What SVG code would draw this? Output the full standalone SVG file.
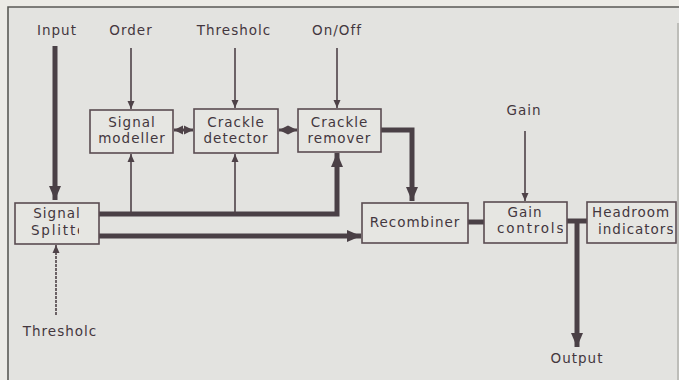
<svg xmlns="http://www.w3.org/2000/svg" width="679" height="380" viewBox="0 0 679 380">
<defs>
<style>
text{font-family:"DejaVu Sans","Liberation Sans",sans-serif;font-size:13.5px;letter-spacing:1px;fill:#43373e;text-anchor:middle}
text.s{text-anchor:start}
text.w{letter-spacing:1.8px}
.box{fill:#e6e6e2;stroke:#5a4c52;stroke-width:1.6}
.thin{fill:none;stroke:#4e4248;stroke-width:1.6}
.mid{fill:none;stroke:#4e4248;stroke-width:3}
.thick{fill:none;stroke:#4a4046;stroke-width:5}
</style>
<marker id="ah" markerUnits="userSpaceOnUse" markerWidth="10" markerHeight="10" refX="8" refY="4" orient="auto"><path d="M0,0.5 L8,4 L0,7.5 Z" fill="#4e4248"/></marker>
<marker id="ahm" markerUnits="userSpaceOnUse" markerWidth="12" markerHeight="12" refX="9" refY="5" orient="auto-start-reverse"><path d="M0,0.5 L9,5 L0,9.5 Z" fill="#4e4248"/></marker>
<marker id="ahb" markerUnits="userSpaceOnUse" markerWidth="16" markerHeight="14" refX="14" refY="6" orient="auto"><path d="M0,0 L14,6 L0,12 Z" fill="#4a4046"/></marker>
<clipPath id="cSplit"><rect x="15" y="222" width="64" height="16"/></clipPath>
<clipPath id="cCtrl"><rect x="484" y="220" width="79" height="18"/></clipPath>
<clipPath id="cInd"><rect x="587" y="220" width="86" height="18"/></clipPath>
</defs>
<rect x="0" y="0" width="679" height="380" fill="#ecebe6"/>
<rect x="8" y="7" width="671" height="373" fill="#e3e3e0"/>
<path d="M8,380 V7 H679" fill="none" stroke="#5a5a55" stroke-width="1.6"/>
<path d="M678,23 V380" fill="none" stroke="#a4a49e" stroke-width="1.2"/>

<g id="connectors">
<path class="thick" d="M55,46 V200" marker-end="url(#ahb)"/>
<path class="thin" d="M131,48 V109" marker-end="url(#ah)"/>
<path class="thin" d="M235,48 V108" marker-end="url(#ah)"/>
<path class="thin" d="M337,48 V108" marker-end="url(#ah)"/>
<path class="mid" d="M174,130 H193" marker-start="url(#ahm)" marker-end="url(#ahm)"/>
<path class="mid" d="M279,130 H297" marker-start="url(#ahm)" marker-end="url(#ahm)"/>
<path class="thick" d="M381,130 H412 V201" marker-end="url(#ahb)"/>
<path class="thin" d="M525,131 V201" marker-end="url(#ah)"/>
<path class="thick" d="M99,214 H337 V153" marker-end="url(#ahb)"/>
<path class="thin" d="M131,214 V154" marker-end="url(#ah)"/>
<path class="thin" d="M235,214 V154" marker-end="url(#ah)"/>
<path class="thick" d="M99,236 H361" marker-end="url(#ahb)"/>
<path class="thick" d="M468,222 H484"/>
<path class="thick" d="M567,221 H587"/>
<path class="thick" d="M577,221 V347" marker-end="url(#ahb)"/>
<path class="thin" d="M56,315 V245" stroke-dasharray="3,1" marker-end="url(#ah)"/>
</g>

<g id="label-input"><text x="57" y="35">Input</text></g>
<g id="label-order"><text x="131" y="35">Order</text></g>
<g id="label-threshold-top"><text x="234" y="35">Thresholc</text></g>
<g id="label-onoff"><text x="337" y="35">On/Off</text></g>
<g id="label-gain"><text x="524" y="115">Gain</text></g>
<g id="label-threshold-bottom"><text x="60" y="336">Thresholc</text></g>
<g id="label-output"><text x="577" y="363">Output</text></g>

<g id="signal-modeller"><rect class="box" x="90" y="110" width="83" height="43"/><text x="132" y="127">Signal</text><text x="132" y="143">modeller</text></g>
<g id="crackle-detector"><rect class="box" x="194" y="109" width="84" height="44"/><text x="236" y="127">Crackle</text><text x="236" y="143">detector</text></g>
<g id="crackle-remover"><rect class="box" x="298" y="109" width="83" height="43"/><text x="339.5" y="127">Crackle</text><text x="339.5" y="143">remover</text></g>
<g id="signal-splitter"><rect class="box" x="15" y="203" width="84" height="41"/><text x="57" y="218">Signal</text><text class="s w" x="31" y="235" clip-path="url(#cSplit)">Splitter</text></g>
<g id="recombiner"><rect class="box" x="362" y="203" width="106" height="40"/><text x="415" y="227">Recombiner</text></g>
<g id="gain-controls"><rect class="box" x="484" y="202" width="83" height="41"/><text x="525" y="217">Gain</text><text class="s w" x="497" y="233" clip-path="url(#cCtrl)">controls</text></g>
<g id="headroom-indicators"><rect class="box" x="587" y="202" width="89" height="41"/><text class="s" x="592" y="217">Headroom</text><text class="s" x="598" y="234" clip-path="url(#cInd)">indicators</text></g>
</svg>
